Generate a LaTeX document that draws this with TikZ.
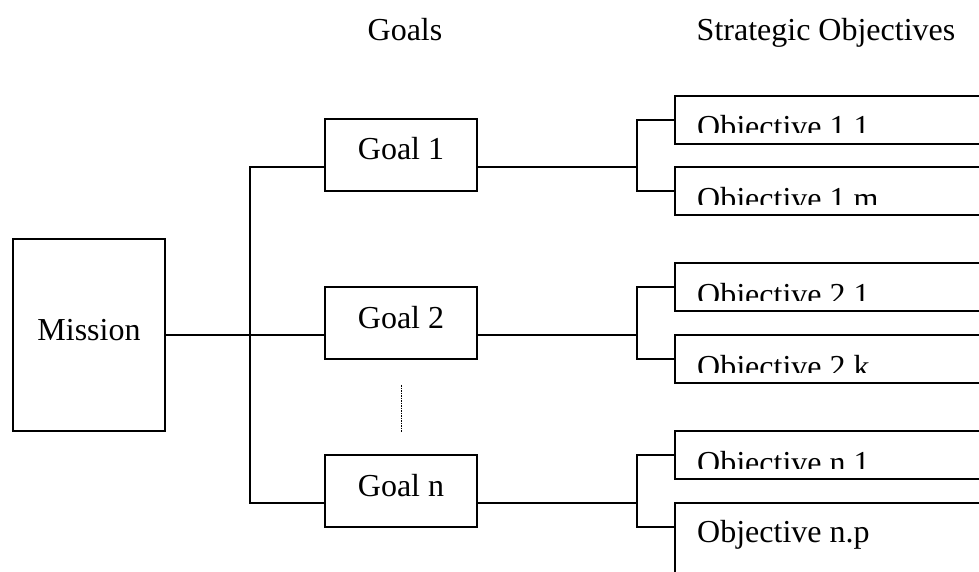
\documentclass[tikz,border=0pt]{standalone}
\usepackage{fontspec}
\setmainfont{Liberation Serif}
\usetikzlibrary{calc}

\tikzset{
  mainbox/.style={draw, line width=1.5pt, inner sep=0pt, outer sep=0pt},
  goalbox/.style={mainbox, minimum width=152pt, text height=41pt, text depth=31pt, anchor=north},
  objbox/.style={mainbox, minimum width=330pt, minimum height=48pt, anchor=north west},
  link/.style={line width=1.5pt},
}

\begin{document}
\begin{tikzpicture}[x=1pt,y=-1pt,font=\fontsize{32}{38}\selectfont]
  \clip (0,0) rectangle (979,572);

  % column heads
  \node[anchor=base] (hgoals) at (405,41) {Goals};
  \node[anchor=base] (hobjs) at (826,41) {Strategic Objectives};

  % mission
  \node[mainbox, minimum width=152pt, text height=101pt, text depth=91pt, anchor=north] (mis) at (89,239) {Mission};

  % goals
  \node[goalbox] (g1) at (401,119) {Goal 1};
  \node[goalbox] (g2) at (401,287) {Goal 2};
  \node[goalbox] (gn) at (401,455) {Goal n};

  % objectives
  \node[objbox] (o11) at (675,96) {};
  \node[objbox] (o1m) at (675,167) {};
  \node[objbox] (o21) at (675,263) {};
  \node[objbox] (o2k) at (675,335) {};
  \node[objbox] (on1) at (675,431) {};
  \node[objbox, minimum height=100pt] (onp) at (675,503) {};

  % Word-style text frames: lower edge of the words is cut off
  \foreach \o/\txt in {o11/Objective 1.1, o1m/Objective 1.m, o21/Objective 2.1,
                       o2k/Objective 2.k, on1/Objective n.1} {
    \begin{scope}
      \clip (\o.north west) rectangle ([yshift=-37pt]\o.north east);
      \node[anchor=base west, inner sep=0pt] (\o t) at ([xshift=22pt,yshift=-42pt]\o.north west) {\txt};
    \end{scope}
  }
  \node[anchor=base west, inner sep=0pt] (onpt) at ([xshift=22pt,yshift=-39pt]onp.north west) {Objective n.p};

  % attach points
  \foreach \g in {g1,g2,gn} {
    \coordinate (\g w) at ([yshift=24pt]\g.south west);
    \coordinate (\g e) at ([yshift=24pt]\g.south east);
    \coordinate (\g b) at ([xshift=160pt]\g e);
  }
  \foreach \o in {o11,o1m,o21,o2k,on1,onp}
    \coordinate (\o w) at ([yshift=-24pt]\o.north west);
  \coordinate (trunk) at (250,335);

  % mission -> goals
  \draw[link] (mis.east) -- (g2w);
  \draw[link] (g1w) -| (trunk) |- (gnw);

  % goals -> objectives
  \draw[link] (g1e) -- (g1b);
  \draw[link] (o11w) -| (g1b) |- (o1mw);
  \draw[link] (g2e) -- (g2b);
  \draw[link] (o21w) -| (g2b) |- (o2kw);
  \draw[link] (gne) -- (gnb);
  \draw[link] (on1w) -| (gnb) |- (onpw);

  % more goals in between
  \coordinate (dtop) at ([yshift=70pt]gn.north);
  \coordinate (dbot) at ([yshift=23pt]gn.north);
  \draw[line width=1pt, dash pattern=on 1.5pt off 1pt] (dtop) -- (dbot);
\end{tikzpicture}
\end{document}
